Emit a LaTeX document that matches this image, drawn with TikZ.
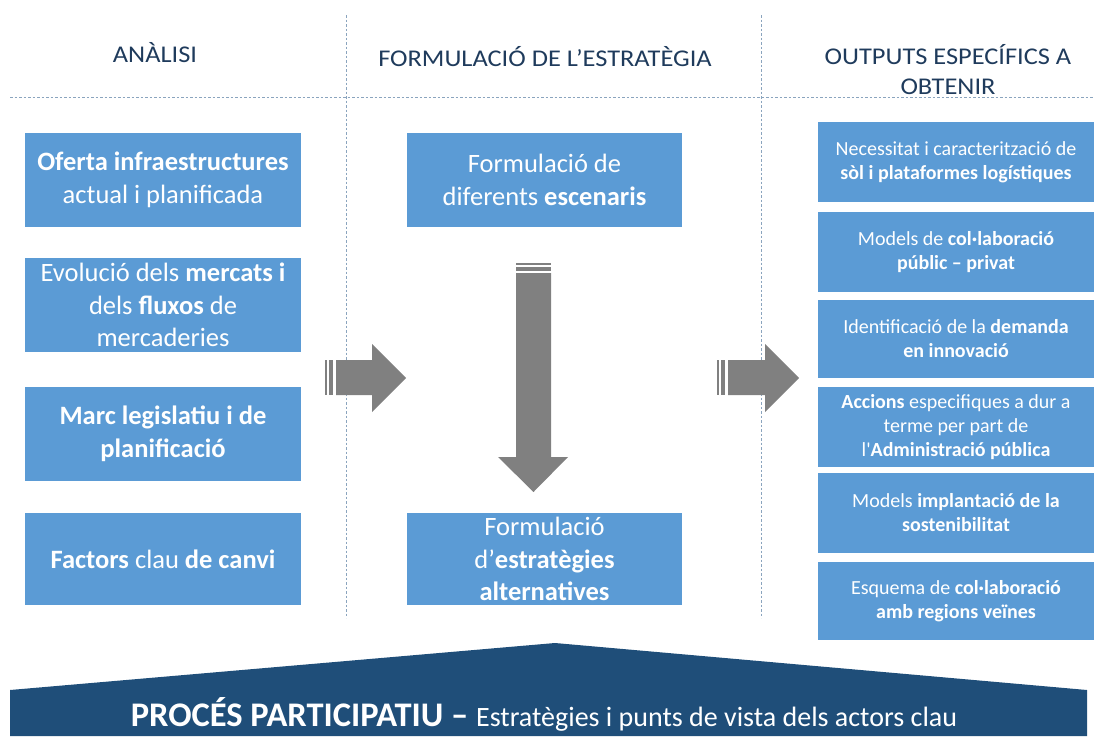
\documentclass[tikz,border=0pt]{standalone}
\usepackage{fontspec}
\setmainfont{Carlito}
\newfontfamily\headfont[FakeStretch=1.1]{Carlito}
\definecolor{boxblue}{HTML}{5B9BD5}
\definecolor{darkblue}{HTML}{1F4E79}
\definecolor{arrowgray}{HTML}{808080}
\definecolor{headtext}{HTML}{1F3B5C}
\definecolor{dashcol}{HTML}{8AA4BE}
\tikzset{
  bluebox/.style={fill=boxblue, draw=none, inner sep=0pt, text=white, align=center},
  bigtext/.style={font=\fontsize{26.5}{32.5}\selectfont},
  smalltext/.style={font=\fontsize{20}{24}\selectfont},
  headlabel/.style={text=headtext, align=center, font=\headfont\fontsize{24}{30}\selectfont},
  sepline/.style={draw=dashcol, line width=1pt, dash pattern=on 2.5pt off 2pt},
  blockarrow/.style={fill=arrowgray, draw=none}
}
\begin{document}
\begin{tikzpicture}[x=1pt,y=-1pt]
\useasboundingbox (0,0) rectangle (1094,736);
% separators
\coordinate (v1t) at (346,15); \coordinate (v1b) at (346,618);
\coordinate (v2t) at (761,15); \coordinate (v2b) at (761,618);
\coordinate (hl) at (10,97); \coordinate (hr) at (1094,97);
\draw[sepline] (v1t) -- (v1b);
\draw[sepline] (v2t) -- (v2b);
\draw[sepline] (hl) -- (hr);
% headers
\node[headlabel] (h1) at (155,53) {ANÀLISI};
\node[headlabel] (h2) at (545,57) {FORMULACIÓ DE L’ESTRATÈGIA};
\node[headlabel] (h3) at (948,70) {OUTPUTS ESPECÍFICS A\\OBTENIR};
% left boxes
\node[bluebox,bigtext,minimum width=276pt,minimum height=94pt] (l1) at (163,180)
  {\textbf{Oferta infraestructures}\\actual i planificada};
\node[bluebox,bigtext,minimum width=276pt,minimum height=94pt] (l2) at (163,305)
  {Evolució dels \textbf{mercats i}\\dels \textbf{fluxos} de\\mercaderies};
\node[bluebox,bigtext,minimum width=276pt,minimum height=94pt] (l3) at (163,434)
  {\textbf{Marc legislatiu i de}\\\textbf{planificació}};
\node[bluebox,bigtext,minimum width=276pt,minimum height=92pt] (l4) at (163,559)
  {\textbf{Factors} clau \textbf{de canvi}};
% middle boxes
\node[bluebox,bigtext,minimum width=275pt,minimum height=94pt] (m1) at (544.5,180)
  {Formulació de\\diferents \textbf{escenaris}};
\node[bluebox,bigtext,minimum width=275pt,minimum height=92pt] (m2) at (544.5,559)
  {Formulació\\d’\textbf{estratègies}\\\textbf{alternatives}};
% right boxes
\node[bluebox,smalltext,minimum width=276pt,minimum height=80pt] (r1) at (956,162)
  {Necessitat i caracterització de\\\textbf{sòl i plataformes logístiques}};
\node[bluebox,smalltext,minimum width=276pt,minimum height=80pt] (r2) at (956,252)
  {Models de \textbf{col·laboració}\\\textbf{públic – privat}};
\node[bluebox,smalltext,minimum width=276pt,minimum height=78pt] (r3) at (956,339)
  {Identificació de la \textbf{demanda}\\\textbf{en innovació}};
\node[bluebox,smalltext,minimum width=276pt,minimum height=80pt] (r4) at (956,427)
  {\textbf{Accions} especifiques a dur a\\terme per part de\\l\textquotesingle\textbf{Administració pública}};
\node[bluebox,smalltext,minimum width=276pt,minimum height=80pt] (r5) at (956,513)
  {Models \textbf{implantació de la}\\\textbf{sostenibilitat}};
\node[bluebox,smalltext,minimum width=276pt,minimum height=78pt] (r6) at (956,601)
  {Esquema de \textbf{col·laboració}\\\textbf{amb regions veïnes}};
% left block arrow
\fill[blockarrow] (325,360) rectangle (327,395);
\fill[blockarrow] (329,360) rectangle (333,395);
\fill[blockarrow] (336,360) -- (372,360) -- (372,344) -- (406,378) -- (372,412) -- (372,395) -- (336,395) -- cycle;
% right block arrow
\fill[blockarrow] (717,360) rectangle (719,395);
\fill[blockarrow] (721,360) rectangle (725,395);
\fill[blockarrow] (728,360) -- (765,360) -- (765,344) -- (799,378) -- (765,412) -- (765,395) -- (728,395) -- cycle;
% down block arrow
\fill[blockarrow] (516,263) rectangle (551,265);
\fill[blockarrow] (516,267) rectangle (551,271);
\fill[blockarrow] (516,273) -- (551,273) -- (551,457) -- (568,457) -- (533.5,492) -- (498,457) -- (516,457) -- cycle;
% bottom banner
\fill[darkblue] (10,736) -- (10,690) -- (555,643) -- (1087,690) -- (1087,736) -- cycle;
\node[text=white, anchor=base] (bt) at (544,726)
  {\fontsize{34.5}{38}\selectfont\textbf{PROCÉS PARTICIPATIU –} \fontsize{28}{32}\selectfont Estratègies i punts de vista dels actors clau};
\end{tikzpicture}
\end{document}
